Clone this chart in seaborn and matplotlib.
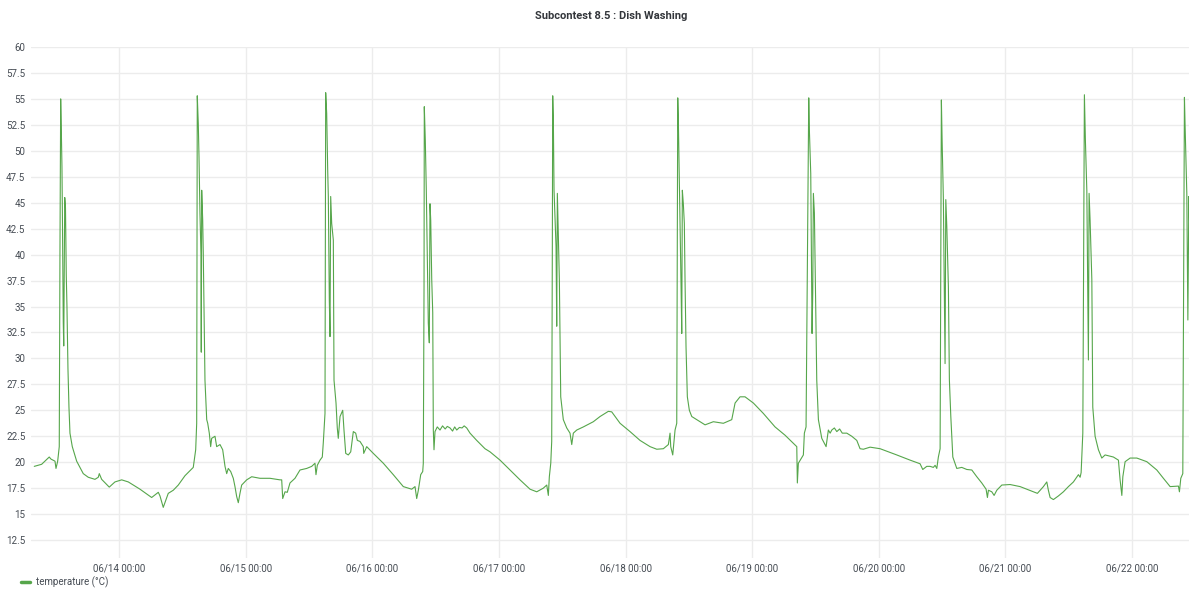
import pandas as pd
import seaborn as sns
import matplotlib.pyplot as plt
import matplotlib.dates as mdates

# Sensor readings: hours since 06/13 00:00 and temperature in °C
hours = [
    7.88, 9.28, 10.72, 11.05, 11.81, 12.00, 12.32, 12.62, 12.75, 12.89,
    13.00, 13.13, 13.23, 13.38, 13.47, 13.57, 13.66, 13.80, 13.95, 14.08,
    14.27, 14.46, 14.65, 15.09, 15.92, 17.17, 18.12, 19.39, 20.02, 20.21,
    20.66, 22.10, 23.18, 24.46, 25.71, 27.93, 30.14, 31.40, 31.72, 32.34,
    33.29, 34.24, 35.19, 36.46, 38.03, 38.49, 38.68,
    38.79, 38.98, 39.12, 39.30, 39.49, 39.55, 39.63, 39.82, 39.93, 40.25,
    40.58, 40.77, 41.07, 41.33, 41.52, 42.15, 42.47, 43.10, 43.61, 44.05,
    44.37, 44.67, 45.13, 45.62, 45.94, 46.26, 46.57, 46.89, 47.21, 48.16,
    49.11, 50.68, 52.58, 54.48, 54.80, 54.99, 55.43, 55.86, 56.37, 57.32,
    58.27, 59.54, 60.49, 61.11, 61.30, 61.55, 62.06, 62.50, 62.69, 63.01,
    63.14, 63.33, 63.52, 63.64, 63.83, 63.96, 64.09, 64.28, 64.59, 64.72,
    65.10, 65.34, 65.53, 65.86, 66.37, 66.61, 66.94, 67.43, 67.89, 68.38,
    68.83, 69.14, 69.65, 70.27, 70.35, 70.92, 72.17, 74.07, 75.96, 77.86,
    79.45, 80.08, 80.40, 80.71, 81.16, 81.54, 81.65,
    81.79, 81.84, 82.03, 82.22, 82.60, 82.79, 82.92, 83.06, 83.25, 83.44,
    83.55, 83.68, 83.87, 84.30, 84.82, 85.30, 85.80, 86.20, 86.72, 87.20,
    87.60, 87.99, 88.50, 89.00, 89.40, 89.88, 90.51, 91.78, 93.35, 94.30,
    96.20, 98.10, 99.99, 101.89, 103.16, 104.41, 105.06, 105.36, 105.55,
    105.82, 106.00,
    106.12, 106.19, 106.31, 106.44, 106.82, 106.95, 107.07, 107.20, 107.45,
    107.71, 108.20, 108.85, 109.47, 109.80, 110.10, 110.75, 112.00, 113.89,
    115.16, 116.74, 117.38, 118.96, 120.85, 122.75, 124.65, 125.92, 127.17,
    128.12, 128.44, 128.57, 128.95, 129.39, 129.71,
    129.90, 130.01, 130.20, 130.53, 130.66, 130.77, 130.96, 131.15, 131.28,
    131.47, 131.72, 132.10, 132.56, 133.50, 135.08, 136.65, 138.55, 140.14,
    140.77, 141.71, 142.66, 144.24, 146.13, 148.35, 150.25, 152.47, 152.58,
    152.77, 153.72, 153.91, 154.23,
    154.74, 154.86, 155.12, 155.37, 155.50, 155.62, 155.81, 156.07, 156.26,
    156.57, 157.21, 158.03, 158.46, 158.80, 159.11, 159.60, 160.06, 160.60,
    161.10, 161.95, 162.90, 163.85, 164.47, 165.10, 166.37, 168.27, 171.43,
    173.96, 175.85, 176.36, 177.12, 177.75, 178.37, 178.70, 179.02, 179.32,
    179.65,
    179.89, 180.03, 180.27, 180.59, 180.73, 180.92, 181.22, 181.41, 181.68,
    182.06, 182.81, 183.76, 184.71, 185.66, 186.61, 187.55, 188.37, 188.62,
    188.81, 189.45, 189.89, 190.40, 191.35, 192.92, 194.82, 197.34, 198.10,
    199.24, 199.88, 200.18, 200.51, 201.13, 202.08, 203.03, 203.98, 204.93,
    205.88, 206.20, 206.39, 206.52, 206.71,
    207.01, 207.20, 207.47, 207.77, 207.90, 208.09, 208.42, 208.60, 209.04,
    209.67, 210.31, 210.94, 212.51, 213.46, 213.78, 214.11, 214.30, 214.73,
    215.68, 216.95, 218.85, 220.74, 221.99, 223.27, 224.84, 225.03, 225.29,
    225.67, 225.79, 225.98, 226.11, 226.43, 226.63, 226.82, 226.96,
]

temperature = [
    19.6, 19.8, 20.5, 20.3, 20.1, 19.4, 20.1, 21.5, 40.0, 55.0,
    52.3, 48.5, 43.0, 33.5, 31.2, 38.0, 45.5, 44.5, 38.0, 35.0,
    29.0, 25.3, 22.8, 21.5, 20.1, 18.9, 18.55, 18.35, 18.55, 18.9,
    18.35, 17.6, 18.1, 18.3, 18.1, 17.4, 16.6, 17.1, 16.75, 15.65,
    17.0, 17.3, 17.8, 18.7, 19.5, 21.2, 23.75,
    55.3, 52.65, 49.4, 44.0, 40.1, 30.6, 46.2, 43.3, 40.1, 27.9,
    24.1, 23.75, 22.8, 21.5, 22.3, 22.5, 21.5, 21.7, 21.2, 19.6,
    18.9, 19.4, 19.1, 18.45, 17.65, 16.7, 16.1, 17.0, 17.8, 18.3,
    18.6, 18.45, 18.45, 18.3, 18.3, 16.5, 17.15, 17.1, 18.0, 18.45,
    19.25, 19.4, 19.6, 19.9, 18.8, 19.7, 20.2, 20.5, 21.9, 24.7,
    55.6, 53.6, 48.2, 45.6, 35.6, 32.1, 45.6, 43.0, 41.4, 27.9,
    25.7, 23.3, 22.3, 24.4, 25.0, 23.1, 20.85, 20.7, 21.0, 22.95,
    22.8, 22.1, 22.0, 21.5, 20.85, 21.5, 20.85, 19.9, 18.8, 17.65,
    17.4, 17.65, 16.5, 17.3, 18.8, 19.1, 19.9,
    36.9, 54.25, 51.0, 46.2, 33.4, 31.5, 44.9, 43.3, 37.6, 34.4,
    23.1, 21.2, 22.95, 23.4, 23.1, 23.5, 23.2, 23.45, 23.3, 23.0,
    23.4, 23.1, 23.35, 23.3, 23.5, 23.3, 22.8, 22.1, 21.3, 21.0,
    20.2, 19.25, 18.3, 17.4, 17.15, 17.5, 17.8, 16.8, 18.6,
    19.9, 22.0,
    40.8, 55.3, 53.0, 46.2, 40.8, 33.1, 45.9, 43.0, 37.6,
    26.3, 24.1, 23.3, 22.8, 21.7, 22.8, 23.1, 23.4, 23.9,
    24.4, 24.9, 24.85, 23.75, 22.95, 22.1, 21.5, 21.25, 21.3,
    21.7, 22.8, 21.5, 20.7, 23.1, 23.75,
    55.1, 53.0, 47.2, 36.9, 32.4, 46.2, 44.9, 43.0, 37.6,
    31.1, 26.3, 25.0, 24.4, 24.1, 23.6, 23.9, 23.75, 24.1,
    25.7, 26.3, 26.3, 25.7, 24.7, 23.4, 22.6, 21.5, 18.0,
    19.9, 20.7, 22.8, 23.4,
    55.1, 52.0, 47.8, 32.4, 36.3, 45.9, 44.0, 34.35, 27.9,
    24.1, 22.3, 21.5, 23.1, 22.8, 23.1, 23.3, 22.95, 23.2,
    22.8, 22.8, 22.5, 22.1, 21.3, 21.25, 21.45, 21.3, 20.7,
    20.2, 19.85, 19.3, 19.6, 19.6, 19.5, 19.7, 19.4, 20.5,
    21.3,
    54.9, 51.0, 45.3, 29.5, 45.3, 42.7, 36.9, 27.9, 24.4,
    20.5, 19.4, 19.5, 19.3, 19.25, 18.6, 18.0, 17.4, 16.6,
    17.3, 17.15, 16.8, 17.3, 17.8, 17.85, 17.65, 17.15, 17.0,
    17.65, 18.1, 17.3, 16.6, 16.4, 16.75, 17.15, 17.65, 18.1,
    18.8, 18.55, 19.0, 20.5, 22.8,
    55.4, 51.0, 46.2, 29.85, 45.9, 43.3, 37.6, 25.3, 22.5,
    21.2, 20.4, 20.7, 20.5, 20.2, 18.3, 16.8, 18.6, 20.05,
    20.4, 20.4, 20.05, 19.25, 18.45, 17.65, 17.7, 17.15, 18.45,
    18.9, 32.7, 55.15, 52.3, 45.9, 33.7, 45.6, 43.0,
]

series_label = "temperature (°C)"
title = "Subcontest 8.5 : Dish Washing"
y_ticks = [12.5, 15, 17.5, 20, 22.5, 25, 27.5, 30, 32.5, 35, 37.5, 40,
           42.5, 45, 47.5, 50, 52.5, 55, 57.5, 60]

start = pd.Timestamp("2019-06-13 00:00")
df = pd.DataFrame({
    "time": start + pd.to_timedelta(hours, unit="h"),
    "temperature": temperature,
})

sns.set_theme(style="white")
plt.rcParams["font.family"] = ["Roboto", "DejaVu Sans"]

line_color = "#56A64B"
text_color = "#464C54"
grid_color = "#ECECEC"

fig = plt.figure(figsize=(11.9, 5.89), dpi=100)
ax = fig.add_axes([0.026, 0.0526, 0.9734, 0.8676])

sns.lineplot(data=df, x="time", y="temperature", ax=ax, color=line_color,
             linewidth=0.8, estimator=None, sort=False, label=series_label,
             legend=False)

ax.set_xlim(start + pd.Timedelta(hours=7.25), start + pd.Timedelta(hours=226.9))
ax.set_ylim(10.77, 60)
ax.set_yticks(y_ticks)
ax.set_yticklabels([f"{v:g}" for v in y_ticks])

ax.xaxis.set_major_locator(mdates.DayLocator())
ax.xaxis.set_major_formatter(mdates.DateFormatter("%m/%d %H:%M"))

ax.grid(True, color=grid_color, linewidth=1.0)
for s in ax.spines.values():
    s.set_visible(False)
ax.tick_params(axis="both", length=0, labelsize=7, labelcolor=text_color)
ax.tick_params(axis="y", pad=4)
ax.tick_params(axis="x", pad=4)
ax.set_xlabel("")
ax.set_ylabel("")

fig.text(0.514, 0.973, title, ha="center", va="center", fontsize=8,
         fontweight="semibold", color="#33363B")

handles, labels = ax.get_legend_handles_labels()
fig.legend(handles, labels, loc="center left", bbox_to_anchor=(0.0176, 0.012),
           frameon=False, fontsize=7, handlelength=0.9, handletextpad=0.6,
           labelcolor=text_color, borderpad=0, borderaxespad=0)
for h in fig.legends[0].legend_handles:
    h.set_linewidth(2.5)

fig.savefig("out.png", dpi=100)
